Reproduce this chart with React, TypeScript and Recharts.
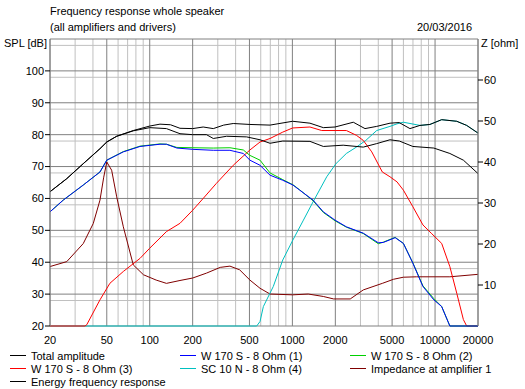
import React from 'react';
import { LineChart, Line, XAxis, YAxis, CartesianGrid } from 'recharts';

type Pt = [number, number];

// frequency (Hz) / level (dB) pairs
const totalAmplitude: Pt[] = [
  [20, 62.1], [26.2, 66.2], [34.2, 70.9], [44.8, 75.6], [50, 77.7], [58.7, 79.5],
  [76.7, 81.3], [100, 82.7], [118, 83.3], [140, 83.1], [163, 82.0], [200, 81.9],
  [237, 82.4], [279, 81.9], [330, 83.0], [385, 83.5], [504, 83.2], [697, 83.0],
  [1004, 84.2], [1328, 83.6], [1648, 82.2], [1990, 82.4], [2673, 83.9], [3228, 81.9],
  [3900, 82.6], [4834, 83.6], [5600, 83.8], [6670, 81.9], [7840, 82.9], [9200, 83.2],
  [11130, 84.7], [14190, 84.2], [16660, 82.9], [20000, 80.5],
];

const energyResponse: Pt[] = [
  [20, 62.1], [26.2, 66.2], [34.2, 70.9], [44.8, 75.6], [50, 77.7], [58.7, 79.5],
  [76.7, 81.2], [100, 82.2], [131, 81.9], [163, 80.3], [200, 80.0], [250, 80.0],
  [279, 78.8], [346, 79.5], [478, 79.3], [593, 78.4], [697, 77.3], [856, 78.0],
  [1328, 77.9], [1648, 76.3], [2270, 76.7], [3140, 76.1], [3900, 77.2], [4830, 78.4],
  [5620, 78.0], [6990, 76.3], [9800, 75.8], [12700, 74.1], [15800, 72.0], [20000, 67.8],
];

const woofer1: Pt[] = [
  [20, 55.8], [24.8, 59.5], [34.2, 64.2], [44.8, 68.3], [50, 72.0], [65.3, 74.6],
  [85.5, 76.3], [118, 77.0], [131, 77.0], [155, 75.8], [200, 75.4], [279, 75.1],
  [365, 75.1], [453, 74.1], [504, 72.0], [593, 70.4], [697, 67.3], [856, 65.7],
  [1009, 64.2], [1125, 62.6], [1395, 59.5], [1648, 55.8], [1990, 53.2], [2390, 51.1],
  [3140, 49.1], [4000, 46.1], [4340, 46.2], [5250, 47.7], [6000, 45.9], [6990, 39.7],
  [8220, 32.4], [9800, 28.2], [11130, 26.1], [12700, 20], [20000, 20],
];

const woofer2: Pt[] = [
  [20, 55.8], [24.8, 59.5], [34.2, 64.2], [44.8, 68.3], [50, 72.0], [65.3, 74.7],
  [85.5, 76.4], [118, 77.1], [131, 77.0], [155, 76.0], [200, 75.9], [279, 75.8],
  [365, 75.9], [453, 75.2], [504, 73.5], [593, 72.0], [697, 68.0], [856, 65.9],
  [1009, 64.3], [1125, 62.7], [1395, 59.3], [1648, 55.6], [1990, 53.0], [2390, 51.0],
  [3140, 49.0], [4000, 45.8], [4340, 46.3], [5250, 47.8], [6000, 45.9], [6990, 39.8],
  [8220, 32.6], [9800, 28.6], [11130, 26.1], [12700, 20], [20000, 20],
];

const woofer3: Pt[] = [
  [20, 20], [35.2, 20], [36.2, 20.4], [44.8, 28.2], [52.6, 33.4], [65.3, 37.1],
  [85.5, 41.2], [100, 44.4], [131, 49.6], [163, 52.2], [200, 56.3], [237, 60.0],
  [293, 64.7], [385, 70.4], [504, 75.2], [593, 77.7], [697, 78.8], [856, 80.8],
  [1004, 82.1], [1328, 82.4], [1605, 81.3], [2020, 81.3], [2390, 81.3], [2810, 79.8],
  [3140, 78.2], [3600, 74.6], [4270, 68.3], [4830, 66.8], [5410, 65.2], [6000, 62.6],
  [6990, 57.4], [8220, 51.7], [9400, 49.1], [11130, 45.9], [12700, 38.6], [14190, 30.3],
  [15800, 22], [16660, 20], [20000, 20],
];

const tweeter: Pt[] = [
  [20, 20], [562, 20], [593, 21.4], [626, 26.1], [735, 32.4], [856, 40.7],
  [1009, 47.0], [1195, 53.2], [1395, 58.9], [1741, 66.8], [2020, 70.9], [2390, 74.1],
  [2810, 76.1], [3270, 78.2], [3900, 81.3], [4830, 82.6], [5410, 83.4], [6000, 83.9],
  [7840, 82.9], [9200, 83.2], [11130, 84.7], [14190, 84.2], [16660, 82.9], [20000, 80.5],
];

// frequency (Hz) / impedance (ohm)
const impedance: Pt[] = [
  [20, 14.5], [26.2, 15.7], [34.2, 20.1], [40.2, 25.0], [44.8, 30.7], [47.6, 36.3],
  [50, 40.0], [54.1, 38.0], [58.7, 31.5], [65.3, 24.2], [76.7, 14.9], [90.4, 12.5],
  [111, 11.2], [131, 10.4], [163, 11.1], [200, 11.7], [250, 12.9], [312, 14.3],
  [365, 14.6], [427, 13.7], [504, 11.2], [593, 9.2], [697, 7.8], [1004, 7.6],
  [1291, 7.8], [1648, 7.2], [1946, 6.6], [2544, 6.6], [3140, 8.8], [4270, 10.4],
  [5120, 11.4], [6000, 11.9], [7420, 12.0], [12700, 12.0], [20000, 12.6],
];

const freqTicks = [20, 50, 100, 200, 500, 1000, 2000, 5000, 10000, 20000];
const freqMinor = [30, 40, 60, 70, 80, 90, 300, 400, 600, 700, 800, 900, 3000, 4000, 6000, 7000, 8000, 9000];
const splTicks = [20, 30, 40, 50, 60, 70, 80, 90, 100];
const splMinor = [22, 24, 26, 28, 32, 34, 36, 38, 42, 44, 46, 48, 52, 54, 56, 58, 62, 64, 66, 68, 72, 74, 76, 78, 82, 84, 86, 88, 92, 94, 96, 98, 102, 104, 106, 108];
const ohmTicks = [10, 20, 30, 40, 50, 60];

const legendItems = [
  { name: 'Total amplitude', color: '#000000' },
  { name: 'W 170 S - 8 Ohm (1)', color: '#0000ff' },
  { name: 'W 170 S - 8 Ohm (2)', color: '#00d000' },
  { name: 'W 170 S - 8 Ohm (3)', color: '#ff0000' },
  { name: 'SC 10 N - 8 Ohm (4)', color: '#00c0c0' },
  { name: 'Impedance at amplifier 1', color: '#800000' },
  { name: 'Energy frequency response', color: '#000000' },
];

const toRows = (pts: Pt[]) => pts.map(([f, v]) => ({ f, v }));

const FONT = '"Liberation Sans", Arial, sans-serif';
const MINOR = '#c0c0c0';
const MAJOR = '#808080';

const text = (left: number, top: number, s: string) => (
  <div style={{ position: 'absolute', left, top, fontSize: 11, lineHeight: '13px', whiteSpace: 'nowrap' }}>{s}</div>
);

export default function App() {
  const tick = { fontSize: 11, fill: '#000', fontFamily: FONT };
  return (
    <div style={{ position: 'relative', width: 525, height: 389, background: '#fff', fontFamily: FONT, color: '#000' }}>
      <style>{'body{margin:0}'}</style>
      {text(50, 5, 'Frequency response whole speaker')}
      {text(50, 21, '(all amplifiers and drivers)')}
      {text(417, 21, '20/03/2016')}
      {text(4, 37, 'SPL [dB]')}
      {text(481, 37, 'Z [ohm]')}
      <LineChart width={525} height={389} margin={{ top: 39, right: 0, bottom: 43, left: 0 }}>
        {/* minor grid first, major grid on top of it */}
        <CartesianGrid
          yAxisId="spl"
          stroke={MINOR}
          horizontalValues={splMinor}
          verticalValues={freqMinor}
        />
        <CartesianGrid
          yAxisId="spl"
          stroke={MAJOR}
          horizontalValues={splTicks.concat([110])}
          verticalValues={freqTicks}
        />
        <XAxis
          type="number"
          dataKey="f"
          scale="log"
          domain={[20, 20000]}
          ticks={freqTicks}
          height={20}
          axisLine={false}
          tickLine={false}
          tick={tick}
          tickMargin={4}
          interval={0}
        />
        <YAxis
          yAxisId="spl"
          type="number"
          domain={[20, 110]}
          ticks={splTicks}
          width={50}
          axisLine={{ stroke: MAJOR }}
          tickLine={{ stroke: '#000' }}
          tickSize={5}
          tick={tick}
          tickMargin={1}
        />
        <YAxis
          yAxisId="z"
          orientation="right"
          type="number"
          domain={[0, 70]}
          ticks={ohmTicks}
          width={47}
          axisLine={{ stroke: MAJOR }}
          tickLine={{ stroke: '#000' }}
          tickSize={5}
          tick={tick}
          tickMargin={1}
        />
        <Line yAxisId="z" data={toRows(impedance)} dataKey="v" stroke="#800000" dot={false} strokeWidth={1} isAnimationActive={false} />
        <Line yAxisId="spl" data={toRows(tweeter)} dataKey="v" stroke="#00c0c0" dot={false} strokeWidth={1} isAnimationActive={false} />
        <Line yAxisId="spl" data={toRows(woofer3)} dataKey="v" stroke="#ff0000" dot={false} strokeWidth={1} isAnimationActive={false} />
        <Line yAxisId="spl" data={toRows(woofer2)} dataKey="v" stroke="#00d000" dot={false} strokeWidth={1} isAnimationActive={false} />
        <Line yAxisId="spl" data={toRows(woofer1)} dataKey="v" stroke="#0000ff" dot={false} strokeWidth={1} isAnimationActive={false} />
        <Line yAxisId="spl" data={toRows(energyResponse)} dataKey="v" stroke="#000000" dot={false} strokeWidth={1} isAnimationActive={false} />
        <Line yAxisId="spl" data={toRows(totalAmplitude)} dataKey="v" stroke="#000000" dot={false} strokeWidth={1} isAnimationActive={false} />
      </LineChart>
      {legendItems.map((item, i) => {
        const col = i % 3;
        const row = Math.floor(i / 3);
        const x = [10, 180, 350][col];
        const y = 349 + row * 13;
        return (
          <div key={item.name} style={{ position: 'absolute', left: x, top: y, height: 13, display: 'flex', alignItems: 'center', fontSize: 11, whiteSpace: 'nowrap' }}>
            <span style={{ display: 'inline-block', width: 16, height: 1, background: item.color, marginRight: 5 }} />
            {item.name}
          </div>
        );
      })}
    </div>
  );
}
